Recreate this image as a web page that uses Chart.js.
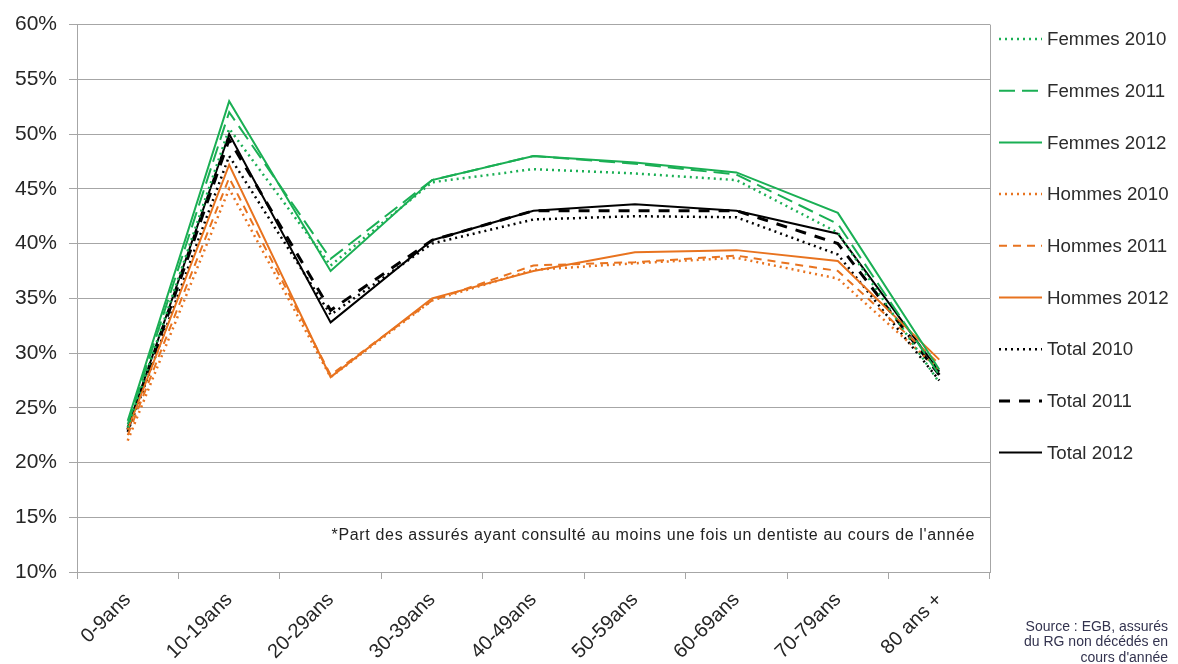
<!DOCTYPE html>
<html>
<head>
<meta charset="utf-8">
<script src="https://cdn.jsdelivr.net/npm/chart.js@4/dist/chart.umd.min.js"></script>
<style>
html,body{margin:0;padding:0;background:#fff;}
#wrap{width:1178px;height:664px;}
</style>
</head>
<body>
<div id="wrap"><canvas id="c" width="1178" height="664"></canvas></div>
<script>
const categories = ["0-9ans","10-19ans","20-29ans","30-39ans","40-49ans","50-59ans","60-69ans","70-79ans","80 ans +"];
const yTicks = [10,15,20,25,30,35,40,45,50,55,60];
const seriesNames = ["Femmes 2010","Femmes 2011","Femmes 2012","Hommes 2010","Hommes 2011","Hommes 2012","Total 2010","Total 2011","Total 2012"];
const femmes2010 = [23.2, 50.5, 38.0, 45.6, 46.8, 46.4, 45.8, 41.0, 27.3];
const femmes2011 = [23.5, 52.0, 38.6, 45.8, 48.0, 47.3, 46.3, 41.8, 28.0];
const femmes2012 = [23.8, 53.0, 37.5, 45.8, 48.0, 47.4, 46.5, 42.8, 28.5];
const hommes2010 = [22.0, 45.0, 27.8, 34.8, 37.6, 38.2, 38.7, 36.8, 28.5];
const hommes2011 = [22.5, 46.0, 28.0, 34.8, 38.0, 38.3, 38.9, 37.5, 29.0];
const hommes2012 = [23.0, 47.2, 27.8, 35.0, 37.5, 39.2, 39.4, 38.4, 29.4];
const total2010 = [22.8, 48.0, 33.5, 40.0, 42.2, 42.5, 42.4, 39.0, 27.5];
const total2011 = [23.0, 49.5, 33.9, 40.3, 43.0, 43.0, 43.0, 40.0, 28.0];
const total2012 = [23.2, 50.0, 32.8, 40.3, 43.0, 43.6, 43.0, 40.9, 28.3];
const noteText = "*Part des assurés ayant consulté au moins une fois un dentiste au cours de l'année";
const sourceLines = ["Source : EGB, assurés","du RG non décédés en","cours d'année"];

const GREEN = "#1aaf54", ORANGE = "#e8731f", BLACK = "#000000";
const styles = [
  {c:GREEN, w:2.5, d:[2,4]},
  {c:GREEN, w:2, d:[16,7]},
  {c:GREEN, w:2, d:[]},
  {c:ORANGE, w:2.5, d:[2,4]},
  {c:ORANGE, w:2, d:[8,6]},
  {c:ORANGE, w:2, d:[]},
  {c:BLACK, w:2.5, d:[2,4]},
  {c:BLACK, w:3, d:[11,9]},
  {c:BLACK, w:2, d:[]}
];
const values = [femmes2010,femmes2011,femmes2012,hommes2010,hommes2011,hommes2012,total2010,total2011,total2012];

const datasets = values.map((v,i)=>({
  label: seriesNames[i],
  data: v,
  borderColor: styles[i].c,
  backgroundColor: styles[i].c,
  borderWidth: styles[i].w,
  borderDash: styles[i].d,
  pointRadius: 0,
  tension: 0,
  fill: false
}));

const FONT = "'Liberation Sans', Arial, sans-serif";

const extras = {
  id: 'extras',
  afterDraw(chart){
    const ctx = chart.ctx;
    const ca = chart.chartArea;
    ctx.save();
    // right border
    ctx.strokeStyle = '#a6a6a6';
    ctx.lineWidth = 1;
    ctx.setLineDash([]);
    ctx.beginPath();
    ctx.moveTo(Math.round(ca.right)+0.5, ca.top);
    ctx.lineTo(Math.round(ca.right)+0.5, ca.bottom);
    ctx.stroke();
    // legend
    const lx0 = 999, lx1 = 1042, tx = 1047;
    seriesNames.forEach((name,i)=>{
      const y = 39 + i*51.7;
      ctx.strokeStyle = styles[i].c;
      ctx.lineWidth = styles[i].w;
      ctx.setLineDash(styles[i].d);
      ctx.beginPath();
      ctx.moveTo(lx0, y);
      ctx.lineTo(lx1, y);
      ctx.stroke();
      ctx.setLineDash([]);
      ctx.fillStyle = '#2b2b2b';
      ctx.font = "18.7px " + FONT;
      ctx.textAlign = 'left';
      ctx.textBaseline = 'middle';
      ctx.fillText(name, tx, y+1);
    });
    // note
    ctx.fillStyle = '#222222';
    ctx.font = "16px " + FONT;
    try { ctx.letterSpacing = '0.65px'; } catch(e) {}
    ctx.textAlign = 'right';
    ctx.textBaseline = 'middle';
    ctx.fillText(noteText, 975, 536);
    try { ctx.letterSpacing = '0px'; } catch(e) {}
    // source
    ctx.fillStyle = '#33334f';
    ctx.font = "14px " + FONT;
    sourceLines.forEach((s,i)=>{
      ctx.fillText(s, 1168, 627 + i*15.5);
    });
    ctx.restore();
  }
};

new Chart(document.getElementById('c'), {
  type: 'line',
  data: { labels: categories, datasets },
  options: {
    responsive: false,
    devicePixelRatio: 1,
    animation: false,
    layout: { padding: { top: 22, right: 188, left: 0, bottom: 0 } },
    plugins: { legend: { display: false }, tooltip: { enabled: false } },
    scales: {
      x: {
        type: 'category',
        offset: true,
        grid: { display: true, drawOnChartArea: false, drawTicks: true, tickLength: 7, color: '#a6a6a6', offset: true },
        border: { display: true, color: '#a6a6a6', width: 1 },
        ticks: { minRotation: 45, maxRotation: 45, color: '#262626', font: { family: FONT, size: 20 }, padding: 9, autoSkip: false },
        afterFit(scale){ scale.height = 92; }
      },
      y: {
        min: 10, max: 60,
        afterBuildTicks(scale){ scale.ticks = yTicks.map(v=>({value:v})); },
        grid: { color: '#a6a6a6', lineWidth: 1, drawTicks: true, tickLength: 8, tickColor: '#a6a6a6' },
        border: { display: true, color: '#a6a6a6', width: 1 },
        ticks: { color: '#262626', font: { family: FONT, size: 21 }, padding: 12, callback: v => v + '%' },
        afterFit(scale){ scale.width = 77; }
      }
    }
  },
  plugins: [extras]
});
</script>
</body>
</html>
